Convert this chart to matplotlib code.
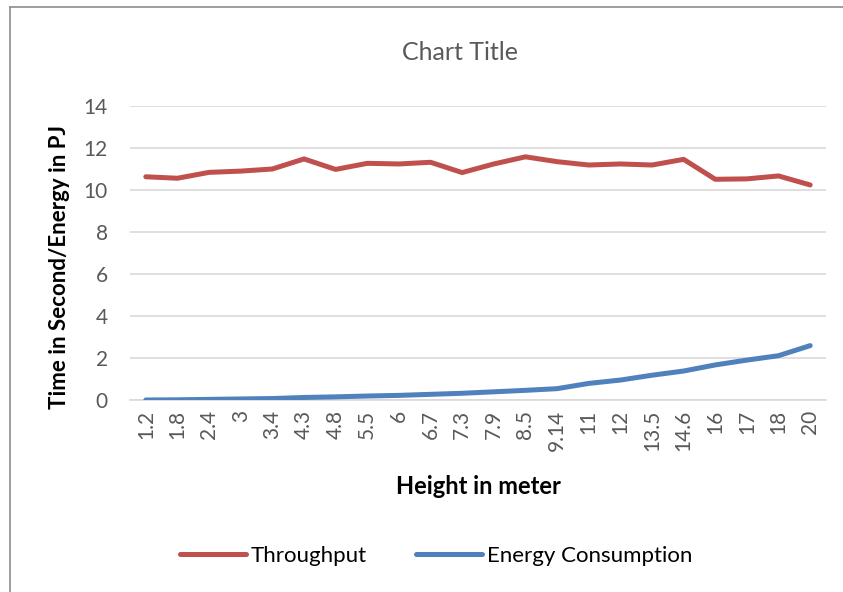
import matplotlib
matplotlib.use("Agg")
from matplotlib import pyplot as plt
from matplotlib.lines import Line2D

heights = ["1.2", "1.8", "2.4", "3", "3.4", "4.3", "4.8", "5.5", "6", "6.7", "7.3",
           "7.9", "8.5", "9.14", "11", "12", "13.5", "14.6", "16", "17", "18", "20"]
throughput = [10.63, 10.56, 10.84, 10.9, 11.0, 11.48, 10.98, 11.27, 11.24, 11.32, 10.83,
              11.24, 11.58, 11.35, 11.19, 11.24, 11.19, 11.46, 10.51, 10.53, 10.67, 10.24]
energy = [0.0, 0.01, 0.03, 0.05, 0.07, 0.12, 0.15, 0.19, 0.22, 0.27, 0.32,
          0.39, 0.46, 0.54, 0.79, 0.95, 1.18, 1.38, 1.67, 1.9, 2.11, 2.59]

plt.rcParams['font.family'] = ['Lato', 'DejaVu Sans']

fig = plt.figure(figsize=(8.43, 5.92), dpi=100)
# cornice del grafico (solo lato sinistro e superiore visibili)
fig.add_artist(Line2D([10 / 843, 10 / 843], [0, 1 - 7 / 592], transform=fig.transFigure,
                      color="#8c8c8c", lw=1.2))
fig.add_artist(Line2D([10 / 843, 1], [1 - 7 / 592, 1 - 7 / 592], transform=fig.transFigure,
                      color="#8c8c8c", lw=1.2))

ax = fig.add_axes([130 / 843, 1 - 400 / 592, 696 / 843, 294 / 592])
x = range(len(heights))
ax.plot(x, throughput, color="#C0504D", lw=3.6, solid_capstyle="round", label="Throughput", zorder=3)
ax.plot(x, energy, color="#4F81BD", lw=3.6, solid_capstyle="round", label="Energy Consumption", zorder=3)

ax.set_xlim(-0.5, len(heights) - 0.5)
ax.set_ylim(0, 14)
ax.set_yticks(range(0, 15, 2))
ax.set_xticks(list(x))
ax.set_xticklabels(heights, rotation=90)
ax.tick_params(axis="both", length=0, labelsize=15, labelcolor="#595959")
ax.tick_params(axis="x", pad=7)
ax.tick_params(axis="y", pad=16)
ax.grid(axis="y", color="#d9d9d9", lw=1.2)
ax.set_axisbelow(True)
for s in ["top", "right", "left"]:
    ax.spines[s].set_visible(False)
ax.spines["bottom"].set_color("#d9d9d9")
ax.spines["bottom"].set_linewidth(1.2)

fig.text(460 / 843, 1 - 52 / 592, "Chart Title", ha="center", va="center", fontsize=18,
         color="#595959")
fig.text(478 / 843, 1 - 486 / 592, "Height in meter", ha="center", va="center",
         fontsize=17, fontweight="bold")
fig.text(60 / 843, 1 - 267 / 592, "Time in Second/Energy in PJ", ha="center", va="center",
         rotation=90, fontsize=16, fontweight="bold")

fig.legend(loc="center", bbox_to_anchor=(436 / 843, 1 - 556 / 592), ncol=2, frameon=False,
           fontsize=16, handlelength=3.0, handletextpad=0.2, columnspacing=2.2)

plt.savefig("out.png", dpi=100)
